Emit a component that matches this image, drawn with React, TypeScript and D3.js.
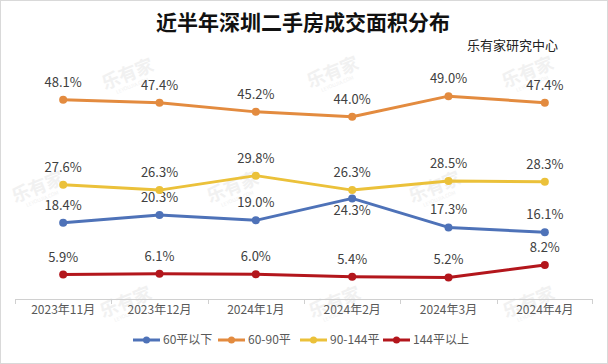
import React from "react";
import { scaleBand, scaleLinear, line } from "d3";

// chart data
const months = ["2023年11月", "2023年12月", "2024年1月", "2024年2月", "2024年3月", "2024年4月"];
const seriesNames = ["60平以下", "60-90平", "90-144平", "144平以上"];
const under60 = [18.4, 20.3, 19.0, 24.3, 17.3, 16.1];
const from60to90 = [48.1, 47.4, 45.2, 44.0, 49.0, 47.4];
const from90to144 = [27.6, 26.3, 29.8, 26.3, 28.5, 28.3];
const over144 = [5.9, 6.1, 6.0, 5.4, 5.2, 8.2];

const colors = ["#4e72b8", "#e38b3f", "#ebc13a", "#b3161c"];
// data labels sitting under the point instead of above it: [series, month]
const labelsBelow = [[0, 3]];

const W = 608;
const H = 364;

export default function App() {
  const values = [under60, from60to90, from90to144, over144];

  const x = scaleBand<string>().domain(months).range([15, 593]);
  const y = scaleLinear().domain([0, 50]).range([299, 92]);
  const cx = (m: string) => (x(m) ?? 0) + x.bandwidth() / 2;

  const path = line<number>()
    .x((d, i) => cx(months[i]))
    .y(d => y(d));

  const font = "'Noto Sans CJK SC', 'Noto Sans', sans-serif";

  // faint "乐有家" watermarks
  const marks = [
    [130, 80], [335, 78], [530, 78],
    [40, 193], [235, 193], [437, 193],
    [128, 308], [337, 308], [531, 308],
  ];

  // legend layout
  const legendX = [133, 218, 300, 383];

  return (
    <svg width={W} height={H} style={{ position: "absolute", left: 0, top: 0, background: "#fff" }} fontFamily={font}>
      <rect x={0.5} y={0.5} width={W - 1} height={H - 1} fill="#fff" stroke="#d9d9d9" />

      {marks.map(([mx, my], i) => (
        <g key={i} transform={`translate(${mx},${my}) rotate(-22)`} fill="#f1f1f1" textAnchor="middle">
          <text fontSize={18} fontWeight={700} y={0}>乐有家</text>
          <text fontSize={5} y={8}>LEYOUJIA.COM</text>
        </g>
      ))}

      <text x={303} y={30} textAnchor="middle" fontSize={21} fontWeight={700} fill="#111">
        近半年深圳二手房成交面积分布
      </text>
      <text x={558} y={50} textAnchor="end" fontSize={13} fill="#222">
        乐有家研究中心
      </text>

      {/* x axis */}
      <line x1={15} x2={593} y1={299.5} y2={299.5} stroke="#d0d0d0" />
      {months.map((m, i) => (
        <line key={"t" + i} x1={Math.round(x(m) ?? 0) + 0.5} x2={Math.round(x(m) ?? 0) + 0.5} y1={299} y2={304} stroke="#d0d0d0" />
      ))}
      <line x1={592.5} x2={592.5} y1={299} y2={304} stroke="#d0d0d0" />
      {months.map(m => (
        <text key={m} x={cx(m)} y={314} textAnchor="middle" fontSize={12} fill="#595959">{m}</text>
      ))}

      {/* series */}
      {values.map((vals, s) => (
        <g key={seriesNames[s]}>
          <path d={path(vals) ?? ""} fill="none" stroke={colors[s]} strokeWidth={3} strokeLinejoin="round" />
          {vals.map((v, i) => (
            <circle key={i} cx={cx(months[i])} cy={y(v)} r={4} fill={colors[s]} />
          ))}
          {vals.map((v, i) => {
            const below = labelsBelow.some(([a, b]) => a === s && b === i);
            return (
              <text key={"l" + i} x={cx(months[i])} y={below ? y(v) + 17 : y(v) - 13}
                textAnchor="middle" fontSize={13} fill="#404040">
                {v.toFixed(1)}%
              </text>
            );
          })}
        </g>
      ))}

      {/* legend */}
      {seriesNames.map((n, s) => (
        <g key={n} transform={`translate(${legendX[s]},340)`}>
          <line x1={0} x2={27} y1={0} y2={0} stroke={colors[s]} strokeWidth={3} />
          <circle cx={13.5} cy={0} r={3.5} fill={colors[s]} />
          <text x={30} y={4} fontSize={12} fill="#595959">{n}</text>
        </g>
      ))}
    </svg>
  );
}
